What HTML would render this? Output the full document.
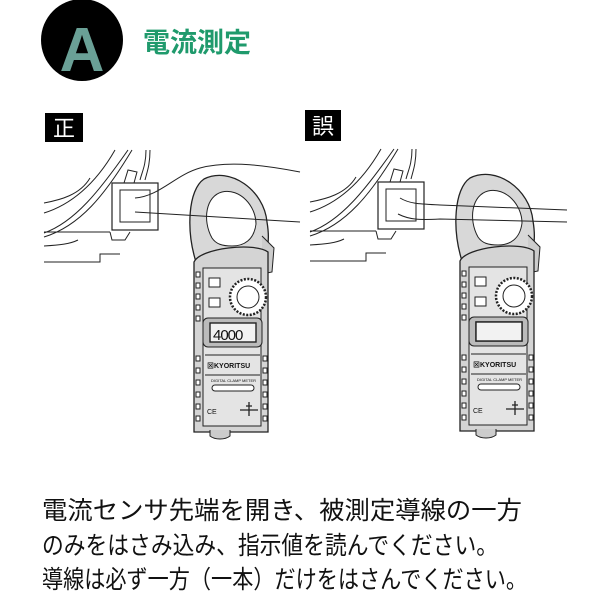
<!DOCTYPE html>
<html><head><meta charset="utf-8"><style>
body{margin:0;background:#fff;width:600px;height:600px;overflow:hidden;position:relative;font-family:"Liberation Sans","Noto Sans CJK JP",sans-serif}
</style></head><body>
<svg width="600" height="600" style="position:absolute;left:0;top:0" font-family="Liberation Sans, Noto Sans CJK JP, sans-serif">
<defs>
<g id="meter" stroke="#222" stroke-width="1" fill="none">
  <path d="M196,262 C186,230 188,190 204,179 C230,166 264,190 267,222 C270,240 268,250 262,262 Z" fill="#d8d8d8" stroke-width="1.3"/>
  <path d="M212,238 C202,220 206,196 222,192 C240,188 256,206 256,224 C254,240 244,246 232,246 C222,246 216,244 212,238 Z" fill="#fff"/>
  <path d="M262,236 L274,248 L272,272 L262,274" fill="#ccc"/>
  <path d="M194,262 C200,248 255,242 268,252 L268,432 L194,432 Z" fill="#d4d4d4" stroke-width="1.3"/>
  <rect x="203" y="268" width="58" height="158" fill="#e4e4e4"/>
  <rect x="203" y="318" width="59" height="29" rx="5" fill="#bbb"/>
  <rect x="210" y="323" width="46" height="19" fill="#f2f2f2" stroke-width="1.4"/>
  <circle cx="248" cy="297" r="18" fill="#fff" stroke-width="2.5" stroke-dasharray="2 1.5"/>
  <circle cx="248" cy="297" r="11" fill="#fff"/>
  <rect x="209" y="278" width="11" height="9" fill="#fff"/>
  <rect x="209" y="298" width="11" height="9" fill="#fff"/>
  <line x1="205" y1="355" x2="260" y2="355"/>
  <line x1="205" y1="375" x2="260" y2="375"/>
  <rect x="212" y="385" width="42" height="6" rx="3" fill="#fff"/>
  <path d="M210,430 L210,436 C215,440 225,440 230,436 L230,430" fill="#ccc"/>
  <g fill="#fff">
    <rect x="196" y="272" width="4" height="5"/><rect x="196" y="283" width="4" height="5"/><rect x="196" y="294" width="4" height="5"/><rect x="196" y="305" width="4" height="5"/><rect x="196" y="316" width="4" height="5"/>
    <rect x="196" y="356" width="4" height="5"/><rect x="196" y="368" width="4" height="5"/><rect x="196" y="380" width="4" height="5"/><rect x="196" y="392" width="4" height="5"/><rect x="196" y="404" width="4" height="5"/><rect x="196" y="416" width="4" height="5"/>
    <rect x="263" y="356" width="4" height="5"/><rect x="263" y="368" width="4" height="5"/><rect x="263" y="380" width="4" height="5"/><rect x="263" y="392" width="4" height="5"/><rect x="263" y="404" width="4" height="5"/><rect x="263" y="416" width="4" height="5"/>
  </g>
  <text x="207" y="368" font-size="7" fill="#111" stroke="none" font-weight="bold">⊠KYORITSU</text>
  <text x="211" y="382" font-size="4" fill="#111" stroke="none">DIGITAL CLAMP METER</text>
  <text x="207" y="414" font-size="7" fill="#111" stroke="none">CE</text>
  <path d="M240,410 L258,410 M249,402 L249,416 M246,406 L252,406" stroke-width="1.3"/>
</g>
<g id="scene" stroke="#222" stroke-width="1" fill="none">
  <path d="M44,213 C70,205 95,185 115,150"/>
  <path d="M44,233 C75,222 100,190 128,150"/>
  <path d="M44,237 C80,226 105,195 132,150"/>
  <path d="M44,203 C60,200 80,195 90,178"/>
  <path d="M44,232 L110,232"/>
  <path d="M44,262 L100,262 L100,254 L120,254"/>
  <path d="M44,246 C60,245 70,244 78,240"/>
  <path d="M146,150 C146,165 142,172 140,180" />
  <path d="M150,150 C150,165 147,172 145,180" />
  <path d="M124,183 L128,170 L137,172 L134,183"/>
  <path d="M110,232 L112,240 L125,240 L130,232"/>
  <rect x="112" y="183" width="46" height="47" fill="#fff" stroke-width="1.2"/>
  <rect x="120" y="190" width="30" height="32" fill="#fff"/>
</g>
</defs>

<circle cx="82" cy="40" r="41" fill="#000"/>
<text x="82" y="71" text-anchor="middle" font-size="62" font-weight="bold" fill="#6aa096" font-family="Liberation Sans">A</text>
<text x="143" y="52" font-size="27" font-weight="bold" fill="#1f9a6c">電流測定</text>

<rect x="45" y="113" width="38" height="29" fill="#000"/>
<text x="64" y="136" text-anchor="middle" font-size="22" fill="#fff">正</text>
<rect x="305" y="110" width="36" height="31" fill="#000"/>
<text x="323" y="134" text-anchor="middle" font-size="22" fill="#fff">誤</text>

<use href="#scene"/>
<use href="#meter"/>
<g stroke="#222" fill="none" stroke-width="1">
  <path d="M135,198 C160,196 175,175 200,168 C230,160 270,166 300,172"/>
  <path d="M135,212 L300,222"/>
</g>
<text x="213" y="340" font-size="15" fill="#111" font-family="Liberation Sans" letter-spacing="-1">4000</text>

<g transform="translate(266,-1)">
  <use href="#scene"/>
  <use href="#meter"/>
</g>
<g stroke="#222" fill="none" stroke-width="1">
  <path d="M400,198 C410,204 420,204 440,205 L567,210"/>
  <path d="M398,214 C410,220 420,220 440,219 L567,222"/>
</g>
<rect x="476" y="322" width="46" height="19" fill="#f2f2f2" stroke="#222" stroke-width="1.4"/>

<g font-size="25" fill="#111">
<text x="42" y="519" textLength="480" lengthAdjust="spacingAndGlyphs">電流センサ先端を開き、被測定導線の一方</text>
<text x="42" y="554" textLength="456" lengthAdjust="spacingAndGlyphs">のみをはさみ込み、指示値を読んでください。</text>
<text x="42" y="588" textLength="485" lengthAdjust="spacingAndGlyphs">導線は必ず一方（一本）だけをはさんでください。</text>
</g>
</svg>
</body></html>
